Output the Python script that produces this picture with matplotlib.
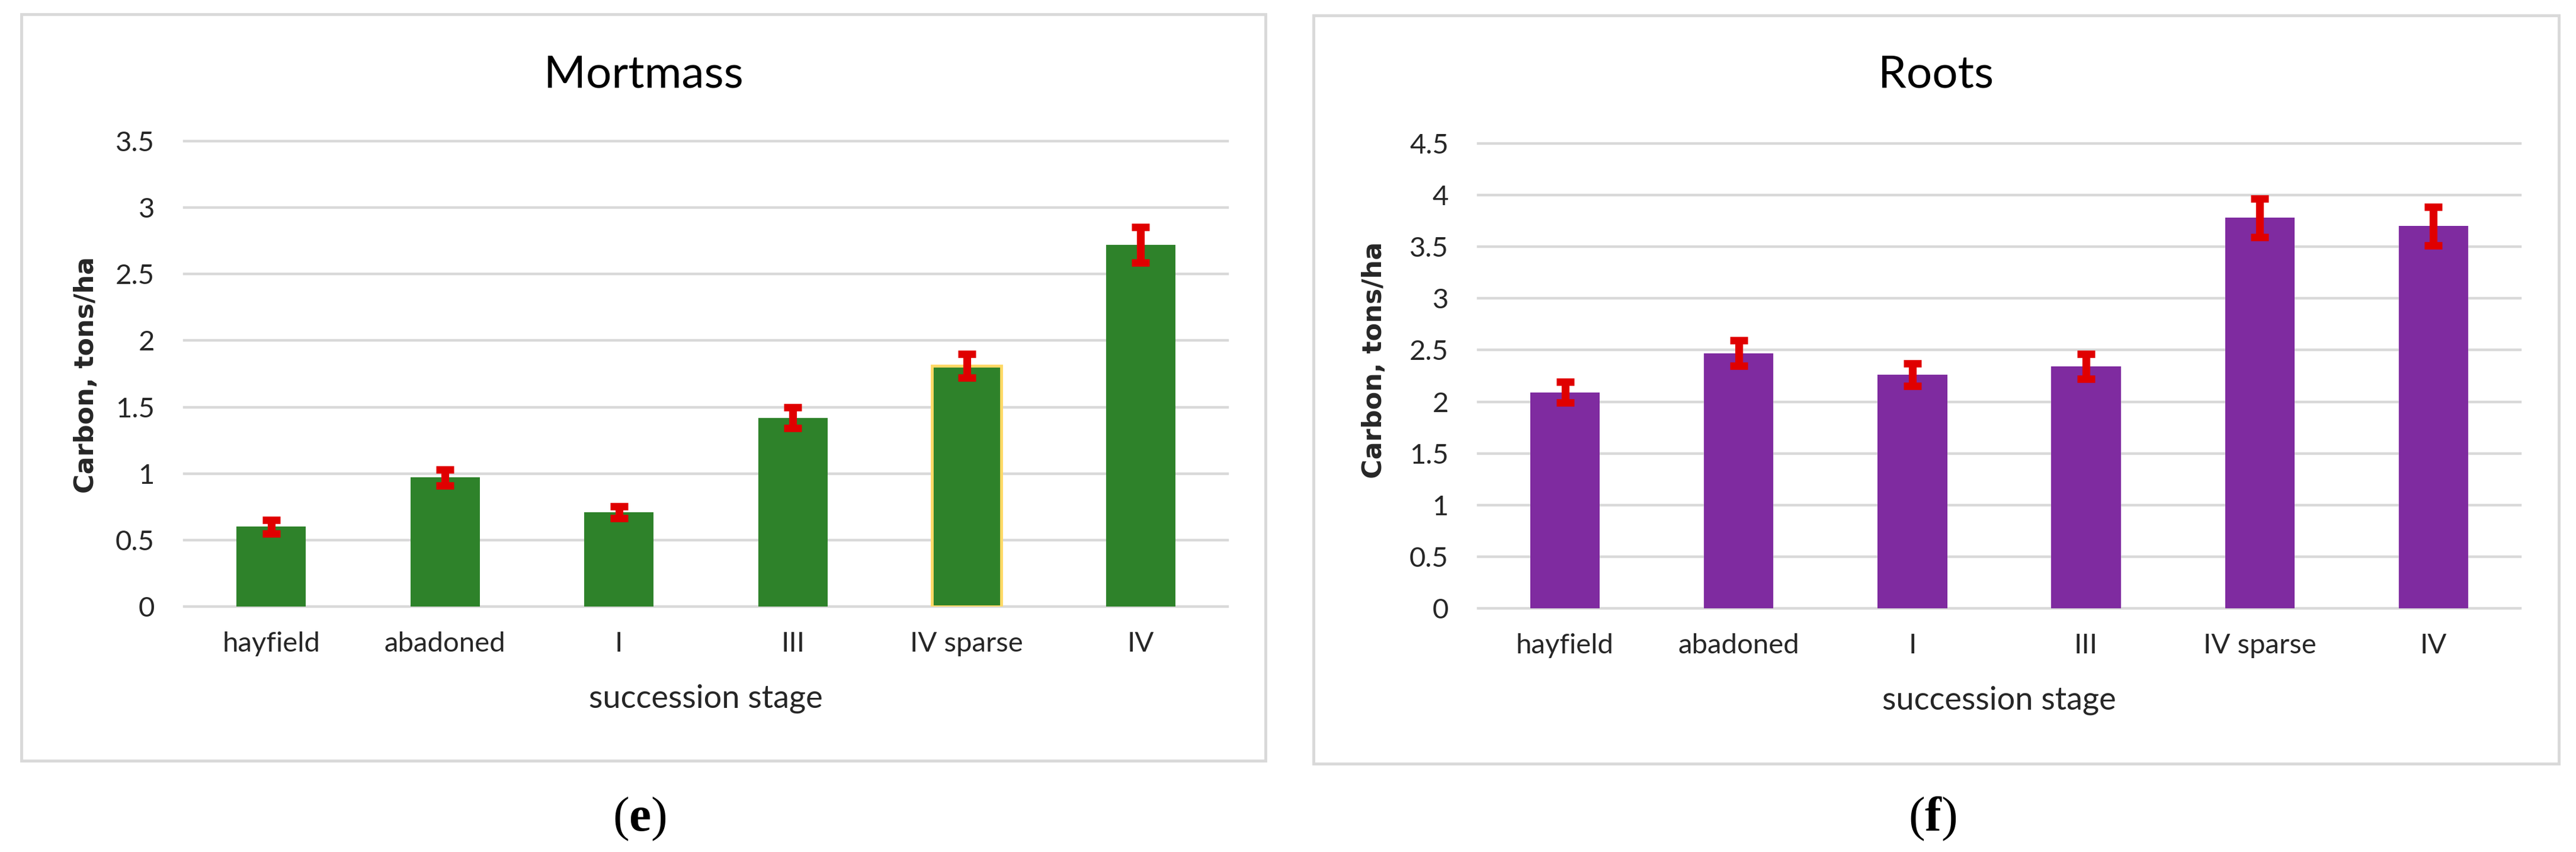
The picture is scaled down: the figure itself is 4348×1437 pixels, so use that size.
import matplotlib

matplotlib.use("Agg")
import matplotlib.pyplot as plt
from matplotlib.patches import Rectangle


# succession stages shared by both panels
STAGES = ["hayfield", "abadoned", "I", "III", "IV sparse", "IV"]

mortmass_carbon = [0.60, 0.97, 0.71, 1.42, 1.81, 2.72]
mortmass_error = [0.05, 0.06, 0.045, 0.08, 0.09, 0.135]
mortmass_ticks = [0, 0.5, 1, 1.5, 2, 2.5, 3, 3.5]

roots_carbon = [2.09, 2.47, 2.26, 2.34, 3.78, 3.70]
roots_error = [0.10, 0.125, 0.11, 0.12, 0.185, 0.185]
roots_ticks = [0, 0.5, 1, 1.5, 2, 2.5, 3, 3.5, 4, 4.5]

TICK_LABELS = ["0", "0.5", "1", "1.5", "2", "2.5", "3", "3.5", "4", "4.5"]

GREEN = "#2E822A"
PURPLE = "#7F2BA0"
RED = "#E00000"
GRID = "#D9D9D9"
TEXT = "#262626"

plt.rcParams["font.family"] = ["Lato", "DejaVu Sans"]
plt.rcParams["mathtext.fontset"] = "custom"
plt.rcParams["mathtext.rm"] = "Liberation Serif"
plt.rcParams["mathtext.bf"] = "Liberation Serif:bold"

W, H = 4348, 1437


def px_rect(x0, y0, x1, y1):
    """pixel box (top-left origin) -> figure fraction [l, b, w, h]"""
    return [x0 / W, (H - y1) / H, (x1 - x0) / W, (y1 - y0) / H]


def draw_panel(fig, axes_px, box_px, title, values, errors, ticks, color,
               highlight=None, ylabel_pos=(-0.094, 0.5), letter="e"):
    l, b, w, h = px_rect(*box_px)
    fig.patches.append(Rectangle((l, b), w, h, transform=fig.transFigure,
                                 facecolor="none", edgecolor=GRID, linewidth=3.5, zorder=-5))

    axis = fig.add_axes(px_rect(*axes_px))
    axis.set_facecolor("none")
    x = list(range(len(STAGES)))
    edges = [("#FFD966" if i == highlight else color) for i in x]
    widths = [(3.5 if i == highlight else 0) for i in x]
    axis.bar(x, values, width=0.4, color=color, edgecolor=edges, linewidth=widths, zorder=2)
    # capsize is half the cap length in errorbar
    axis.errorbar(x, values, yerr=errors, fmt="none", ecolor=RED, elinewidth=9.5,
                  capsize=10.5, capthick=9, zorder=3)

    axis.set_xlim(-0.5, len(STAGES) - 0.5)
    axis.set_ylim(0, ticks[-1])
    axis.set_yticks(ticks)
    axis.set_yticklabels(TICK_LABELS[:len(ticks)])
    axis.set_xticks(x)
    axis.set_xticklabels(STAGES)
    axis.tick_params(axis="both", length=0, labelsize=34, labelcolor=TEXT)
    axis.tick_params(axis="x", pad=30)
    axis.tick_params(axis="y", pad=36)
    for spine in axis.spines.values():
        spine.set_visible(False)
    axis.grid(axis="y", color=GRID, linewidth=3.2)
    axis.set_axisbelow(True)
    for line in axis.get_ygridlines():
        line.set_clip_on(False)

    axis.set_xlabel("succession stage", fontsize=39, color=TEXT)
    axis.xaxis.set_label_coords(0.5, -0.217)
    axis.xaxis.label.set_verticalalignment("baseline")
    axis.set_ylabel("Carbon, tons/ha", fontsize=32, fontweight="bold", color=TEXT,
                    family="DejaVu Sans")
    axis.yaxis.set_label_coords(*ylabel_pos)
    axis.yaxis.label.set_verticalalignment("center")

    cx = l + w / 2
    fig.text(cx, (H - 147) / H, title, fontsize=55, color="black", ha="center", va="baseline")
    fig.text(cx - 0.0015, 0.039, rf"($\mathbf{{{letter}}}$)", fontsize=60, color="black",
             family="Liberation Serif", ha="center", va="center")
    return axis


fig = plt.figure(figsize=(W / 100, H / 100), dpi=100)
fig.patch.set_facecolor("white")

draw_panel(fig, (311, 238, 2072, 1023), (36, 24, 2136, 1283), "Mortmass",
           mortmass_carbon, mortmass_error, mortmass_ticks, GREEN,
           highlight=4, ylabel_pos=(-0.094, 0.498), letter="e")
draw_panel(fig, (2495, 242, 4254, 1026), (2217, 26, 4319, 1288), "Roots",
           roots_carbon, roots_error, roots_ticks, PURPLE,
           ylabel_pos=(-0.0995, 0.534), letter="f")

fig.savefig("out.png", dpi=100, facecolor="white")
